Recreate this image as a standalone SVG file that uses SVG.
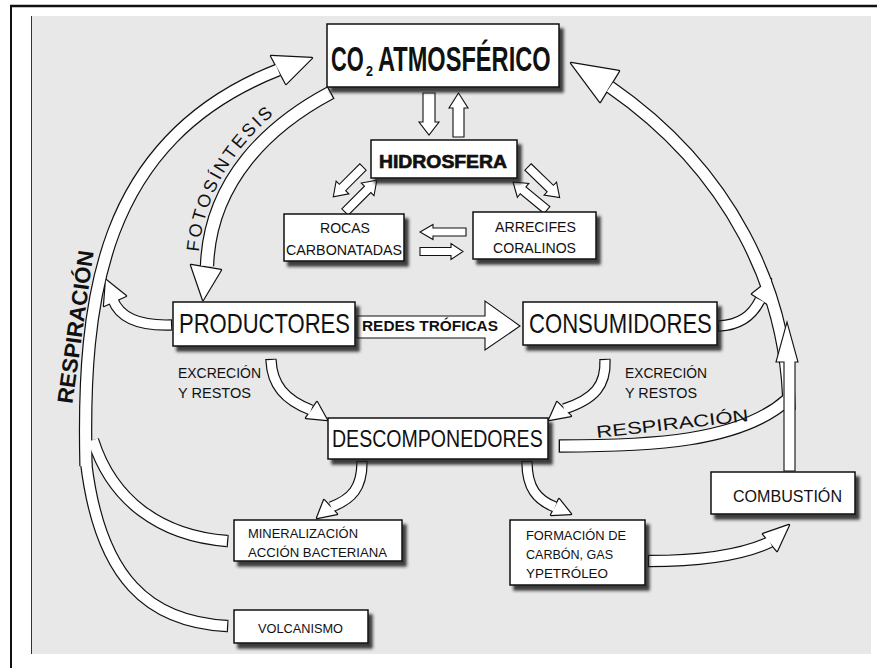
<svg xmlns="http://www.w3.org/2000/svg" width="877" height="668" viewBox="0 0 877 668">
<defs>
<filter id="sh" x="-10%" y="-10%" width="130%" height="150%"><feDropShadow dx="4" dy="5" stdDeviation="1.6" flood-color="#1a1a1a" flood-opacity="0.85"/></filter>
<marker id="tail" markerUnits="strokeWidth" viewBox="0 0 1 1" markerWidth="1" markerHeight="1" refX="0" refY="0.5" orient="auto" overflow="visible"><rect x="-0.1" y="0" width="0.1" height="1" fill="#111"/></marker>
<style>
.o{fill:none;stroke:#111}
.f{fill:none;stroke:#fff}
.oh{fill:#111;stroke:#111;stroke-width:2.4;stroke-linejoin:round}
.fh{fill:#fff}
.sa{fill:#fff;stroke:#111;stroke-width:1.1}
.box{fill:#fff;stroke:#111;stroke-width:1.5;filter:url(#sh)}
.t{font-family:"Liberation Sans",Arial,sans-serif;fill:#111}
</style>
</defs>
<rect width="877" height="668" fill="#fff"/>
<rect x="31" y="16" width="840" height="638" fill="#e8e8e8"/>
<line x1="31.5" y1="16" x2="31.5" y2="654" stroke="#333" stroke-width="1"/>
<line x1="10" y1="6" x2="877" y2="6" stroke="#111" stroke-width="2.5"/>
<line x1="11" y1="5" x2="11" y2="668" stroke="#111" stroke-width="2"/>

<g id="connectors">
 <g id="conn-outline">
  <path class="o" style="stroke-width:13.4" d="M 86 466 C 82 300, 100 140, 278 70"/>
  <path class="o" style="stroke-width:12.4" marker-start="url(#tail)" d="M 227 541 C 160 536, 112 500, 93 440"/>
  <path class="o" style="stroke-width:12.4" marker-start="url(#tail)" d="M 227 626 C 150 622, 100 580, 86 462"/>
  <path class="o" style="stroke-width:11.4" marker-start="url(#tail)" d="M 171 325 C 140 326, 120 318, 113 300"/>
  <path class="o" style="stroke-width:14.4" marker-start="url(#tail)" d="M 330 93 C 270 125, 210 180, 207 266"/>
  <path class="o" style="stroke-width:13.4" d="M 789 410 C 788 290, 730 170, 610 87"/>
  <path class="o" style="stroke-width:11.4" marker-start="url(#tail)" d="M 719 326 C 740 325, 752 316, 760 300"/>
  <path class="o" style="stroke-width:13.4" marker-start="url(#tail)" d="M 560 446 C 650 446, 740 442, 787 400"/>
  <path class="o" style="stroke-width:11.4" marker-start="url(#tail)" d="M 271 360 C 272 385, 285 400, 311 410"/>
  <path class="o" style="stroke-width:11.4" marker-start="url(#tail)" d="M 605 360 C 606 385, 595 399, 564 409"/>
  <path class="o" style="stroke-width:11.4" marker-start="url(#tail)" d="M 362 462 C 362 488, 352 499, 331 507"/>
  <path class="o" style="stroke-width:11.4" marker-start="url(#tail)" d="M 527 462 C 527 488, 537 500, 555 507"/>
  <path class="o" style="stroke-width:12.4" marker-start="url(#tail)" d="M 649 561 C 700 561, 740 556, 770 542"/>
  <polygon class="oh" points="312,58 271,56 286,84"/>
  <polygon class="oh" points="106,280 104,306 126,296"/>
  <polygon class="oh" points="203,300 191,265 221,270"/>
  <polygon class="oh" points="571,63 619,71 600,102"/>
  <polygon class="oh" points="771,279 752,294 769,305"/>
  <polygon class="oh" points="327,420 306,418 317,402"/>
  <polygon class="oh" points="549,420 557,402 571,416"/>
  <polygon class="oh" points="317,518 324,500 337,514"/>
  <polygon class="oh" points="571,514 551,515 559,499"/>
  <polygon class="oh" points="789,525 763,534 777,551"/>
 </g>
 <g id="conn-fill">
  <path class="f" style="stroke-width:11" d="M 86 466 C 82 300, 100 140, 278 70"/>
  <path class="f" style="stroke-width:10" d="M 227 541 C 160 536, 112 500, 93 440"/>
  <path class="f" style="stroke-width:10" d="M 227 626 C 150 622, 100 580, 86 462"/>
  <path class="f" style="stroke-width:9" d="M 171 325 C 140 326, 120 318, 113 300"/>
  <path class="f" style="stroke-width:12" d="M 330 93 C 270 125, 210 180, 207 266"/>
  <path class="f" style="stroke-width:11" d="M 789 410 C 788 290, 730 170, 610 87"/>
  <path class="f" style="stroke-width:9" d="M 719 326 C 740 325, 752 316, 760 300"/>
  <path class="f" style="stroke-width:11" d="M 560 446 C 650 446, 740 442, 787 400"/>
  <path class="f" style="stroke-width:9" d="M 271 360 C 272 385, 285 400, 311 410"/>
  <path class="f" style="stroke-width:9" d="M 605 360 C 606 385, 595 399, 564 409"/>
  <path class="f" style="stroke-width:9" d="M 362 462 C 362 488, 352 499, 331 507"/>
  <path class="f" style="stroke-width:9" d="M 527 462 C 527 488, 537 500, 555 507"/>
  <path class="f" style="stroke-width:10" d="M 649 561 C 700 561, 740 556, 770 542"/>
  <polygon class="fh" points="312,58 271,56 286,84"/>
  <polygon class="fh" points="106,280 104,306 126,296"/>
  <polygon class="fh" points="203,300 191,265 221,270"/>
  <polygon class="fh" points="571,63 619,71 600,102"/>
  <polygon class="fh" points="771,279 752,294 769,305"/>
  <polygon class="fh" points="327,420 306,418 317,402"/>
  <polygon class="fh" points="549,420 557,402 571,416"/>
  <polygon class="fh" points="317,518 324,500 337,514"/>
  <polygon class="fh" points="571,514 551,515 559,499"/>
  <polygon class="fh" points="789,525 763,534 777,551"/>
 </g>
 <g id="conn-straight">
  <polygon class="sa" points="784,471 795,471 795,362 798,362 787,322 776,362 784,362"/>
  <polygon class="sa" points="357,316 485,316 485,301 520,326 485,350 485,338 357,338"/>
  <polygon class="sa" transform="translate(429,93) rotate(90)" points="0,-6 29,-6 29,-10 42,0 29,10 29,6 0,6"/>
  <polygon class="sa" transform="translate(458.5,137) rotate(-90)" points="0,-5.5 29,-5.5 29,-9.5 44,0 29,9.5 29,5.5 0,5.5"/>
  <polygon class="sa" transform="translate(363,167) rotate(135)" points="0,-4.5 29,-4.5 29,-9 42,0 29,9 29,4.5 0,4.5"/>
  <polygon class="sa" transform="translate(345,212) rotate(-45)" points="0,-4.5 32,-4.5 32,-9 45,0 32,9 32,4.5 0,4.5"/>
  <polygon class="sa" transform="translate(547,210) rotate(-140.5)" points="0,-4.5 31,-4.5 31,-9 44,0 31,9 31,4.5 0,4.5"/>
  <polygon class="sa" transform="translate(528,167) rotate(44)" points="0,-4.5 31,-4.5 31,-9 44,0 31,9 31,4.5 0,4.5"/>
  <polygon class="sa" transform="translate(466,232) rotate(180)" points="0,-4 33,-4 33,-7.5 46,0 33,7.5 33,4 0,4"/>
  <polygon class="sa" transform="translate(420,251.5)" points="0,-4 31,-4 31,-8 43,0 31,8 31,4 0,4"/>
 </g>
 <text class="t" x="362" y="330.5" font-size="14" font-weight="bold" textLength="136" lengthAdjust="spacingAndGlyphs">REDES TRÓFICAS</text>
 <path id="fotopath" d="M 198 266 C 200 175, 262 114, 322 82" fill="none"/>
 <text class="t" font-size="18" letter-spacing="2.6"><textPath href="#fotopath" startOffset="14">FOTOSÍNTESIS</textPath></text>
 <text class="t" transform="translate(83,328) rotate(-82)" text-anchor="middle" font-size="22" font-weight="bold" textLength="154" lengthAdjust="spacingAndGlyphs">RESPIRACIÓN</text>
 <text class="t" transform="translate(597,438) rotate(-6.4)" font-size="17" textLength="153" lengthAdjust="spacingAndGlyphs">RESPIRACIÓN</text>
 <text class="t" x="178" y="378" font-size="14" textLength="83" lengthAdjust="spacingAndGlyphs">EXCRECIÓN</text>
 <text class="t" x="178" y="398" font-size="14" textLength="73" lengthAdjust="spacingAndGlyphs">Y RESTOS</text>
 <text class="t" x="625" y="378" font-size="14" textLength="82" lengthAdjust="spacingAndGlyphs">EXCRECIÓN</text>
 <text class="t" x="625" y="398" font-size="14" textLength="72" lengthAdjust="spacingAndGlyphs">Y RESTOS</text>
</g>

<g id="co2">
 <rect class="box" x="327" y="24" width="232" height="63"/>
 <text class="t" transform="translate(331,71) scale(0.63,1)" font-size="36" font-weight="bold" textLength="52" lengthAdjust="spacingAndGlyphs">CO</text>
 <text class="t" x="366" y="76" font-size="14" font-weight="bold" textLength="7" lengthAdjust="spacingAndGlyphs">2</text>
 <text class="t" transform="translate(378,71) scale(0.63,1)" font-size="36" font-weight="bold" textLength="274" lengthAdjust="spacingAndGlyphs">ATMOSFÉRICO</text>
</g>
<g id="hidrosfera">
 <rect class="box" x="371" y="140" width="146" height="38"/>
 <text class="t" x="379" y="168" font-size="19" font-weight="bold" stroke="#111" stroke-width="0.7" textLength="128" lengthAdjust="spacingAndGlyphs">HIDROSFERA</text>
</g>
<g id="rocas">
 <rect class="box" x="284" y="214" width="120" height="47"/>
 <text class="t" x="320" y="233" font-size="15" textLength="50" lengthAdjust="spacingAndGlyphs">ROCAS</text>
 <text class="t" x="286" y="255" font-size="15" textLength="116" lengthAdjust="spacingAndGlyphs">CARBONATADAS</text>
</g>
<g id="arrecifes">
 <rect class="box" x="473" y="212" width="123" height="47"/>
 <text class="t" x="495" y="232" font-size="15" textLength="81" lengthAdjust="spacingAndGlyphs">ARRECIFES</text>
 <text class="t" x="493" y="253" font-size="15" textLength="83" lengthAdjust="spacingAndGlyphs">CORALINOS</text>
</g>
<g id="productores">
 <rect class="box" x="173" y="302" width="182" height="44"/>
 <text class="t" transform="translate(179,333) scale(0.814,1)" font-size="27" textLength="210" lengthAdjust="spacingAndGlyphs">PRODUCTORES</text>
</g>
<g id="consumidores">
 <rect class="box" x="523" y="302" width="194" height="43"/>
 <text class="t" transform="translate(529,333) scale(0.82,1)" font-size="27" textLength="223" lengthAdjust="spacingAndGlyphs">CONSUMIDORES</text>
</g>
<g id="descomponedores">
 <rect class="box" x="328" y="418" width="220" height="41"/>
 <text class="t" transform="translate(332,447) scale(0.86,1)" font-size="23" textLength="245" lengthAdjust="spacingAndGlyphs">DESCOMPONEDORES</text>
</g>
<g id="mineralizacion">
 <rect class="box" x="234" y="520" width="168" height="41"/>
 <text class="t" x="248" y="538" font-size="13" textLength="110" lengthAdjust="spacingAndGlyphs">MINERALIZACIÓN</text>
 <text class="t" x="248" y="557" font-size="13" textLength="139" lengthAdjust="spacingAndGlyphs">ACCIÓN BACTERIANA</text>
</g>
<g id="volcanismo">
 <rect class="box" x="234" y="610" width="134" height="33"/>
 <text class="t" x="258" y="633" font-size="13" textLength="85" lengthAdjust="spacingAndGlyphs">VOLCANISMO</text>
</g>
<g id="formacion">
 <rect class="box" x="510" y="520" width="135" height="65"/>
 <text class="t" x="526" y="540" font-size="13" textLength="100" lengthAdjust="spacingAndGlyphs">FORMACIÓN DE</text>
 <text class="t" x="526" y="559" font-size="13" textLength="87" lengthAdjust="spacingAndGlyphs">CARBÓN, GAS</text>
 <text class="t" x="526" y="578" font-size="13" textLength="82" lengthAdjust="spacingAndGlyphs">YPETRÓLEO</text>
</g>
<g id="combustion">
 <rect class="box" x="711" y="472" width="144" height="42"/>
 <text class="t" x="733" y="502" font-size="16" textLength="109" lengthAdjust="spacingAndGlyphs">COMBUSTIÓN</text>
</g>
</svg>
